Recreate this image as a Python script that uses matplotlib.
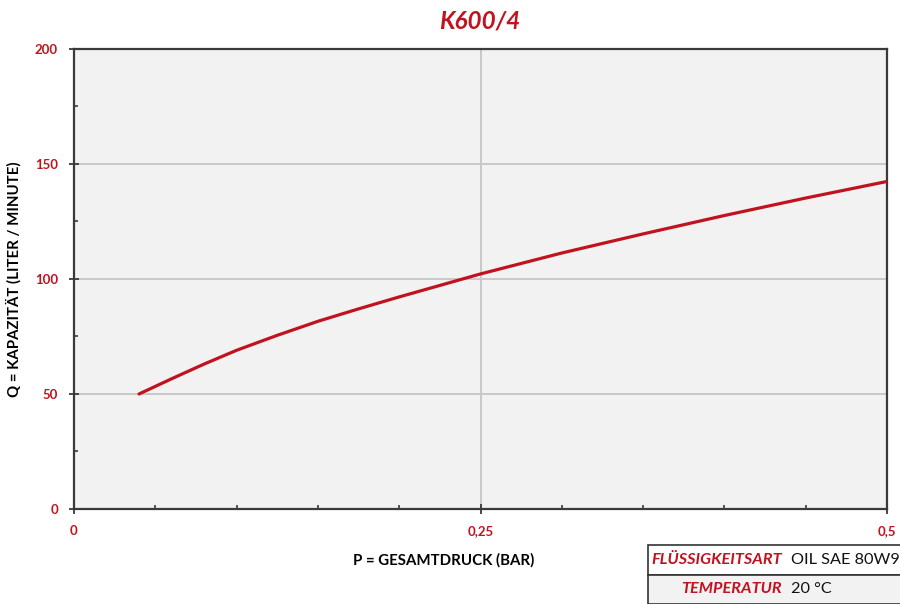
import numpy as np
import matplotlib.pyplot as plt
from matplotlib.ticker import MultipleLocator, FuncFormatter
from matplotlib.patches import Rectangle

# data
druck = [0.04, 0.06, 0.08, 0.10, 0.125, 0.15, 0.175, 0.20, 0.25, 0.30, 0.35, 0.40, 0.45, 0.50]
kapazitaet = [50, 56.6, 63.0, 69.0, 75.5, 81.6, 87.0, 92.2, 102.2, 111.3, 119.6, 127.6, 135.2, 142.4]

titel = "K600/4"
x_label = "P = GESAMTDRUCK (BAR)"
y_label = "Q = KAPAZITÄT (LITER / MINUTE)"
info_labels = ["FLÜSSIGKEITSART", "TEMPERATUR"]
info_values = ["OIL SAE 80W90", "20 °C"]

red = "#c0121f"
plt.rcParams['font.family'] = ['Lato', 'DejaVu Sans']

fig = plt.figure(figsize=(9, 6.04), dpi=100)
ax = fig.add_axes([0.0822, 0.1573, 0.9034, 0.7616])
ax.set_facecolor("#f2f2f2")

ax.plot(druck, kapazitaet, color=red, lw=2.3, solid_capstyle='round',
        solid_joinstyle='round', zorder=3)

ax.set_xlim(0, 0.5)
ax.set_ylim(0, 200)
ax.xaxis.set_major_locator(MultipleLocator(0.25))
ax.xaxis.set_minor_locator(MultipleLocator(0.05))
ax.yaxis.set_major_locator(MultipleLocator(50))
ax.yaxis.set_minor_locator(MultipleLocator(25))
ax.xaxis.set_major_formatter(FuncFormatter(lambda v, p: "0" if v == 0 else f"{v:g}".replace(".", ",")))

ax.grid(True, which='major', color="#c8c8c8", lw=1.4, zorder=1)
for s in ax.spines.values():
    s.set_color("#3a3a3a")
    s.set_linewidth(1.6)

ax.tick_params(which='major', direction='inout', length=7, width=1.3, color="#3a3a3a",
               labelcolor=red, labelsize=9.5, pad=8)
ax.tick_params(which='minor', direction='in', length=3, width=1.2, color="#3a3a3a")
for lbl in ax.get_xticklabels() + ax.get_yticklabels():
    lbl.set_fontweight('bold')

ax.set_xlabel(x_label, fontsize=10.8, fontweight='bold')
ax.set_ylabel(y_label, fontsize=10.8, fontweight='bold')
ax.xaxis.set_label_coords(0.455, -0.095)
ax.yaxis.set_label_coords(-0.065, 0.5)

fig.text(0.533, 0.966, titel, ha='center', va='center', color=red,
         fontsize=17.5, fontweight='bold', style='italic')

# small info table in the bottom right corner
tx0, tw = 648 / 900, 0.3
rows_y = [1 - 575 / 604, 0]
row_h = 30 / 604
for i, (lab, val) in enumerate(zip(info_labels, info_values)):
    y0 = rows_y[i]
    fc = "white" if i == 0 else "#f2f2f2"
    fig.patches.append(Rectangle((tx0, y0), tw, row_h if i == 0 else 29 / 604,
                                 transform=fig.transFigure, facecolor=fc,
                                 edgecolor="#333333", lw=1.2))
    yc = y0 + row_h / 2
    fig.text(782 / 900, yc, lab, ha='right', va='center', color=red,
             fontsize=11.7, fontweight='bold', style='italic')
    fig.text(791 / 900, yc, val, ha='left', va='center', color="#111111", fontsize=11.7)

fig.savefig("out.png", dpi=100)
